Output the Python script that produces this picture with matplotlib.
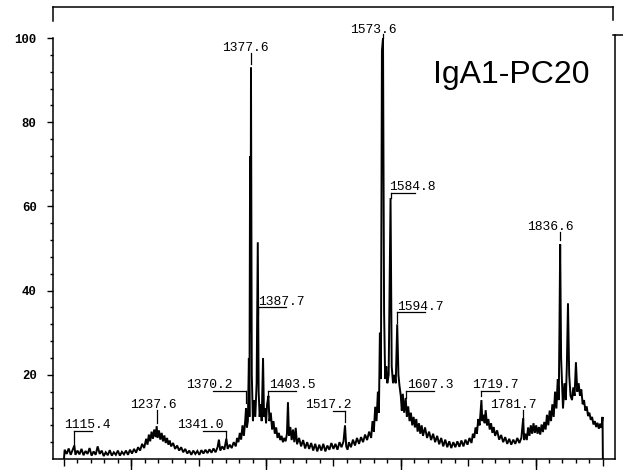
import matplotlib.pyplot as plt
import matplotlib.transforms as mtransforms

# -------------------------------------------------------
# Spectrum (m/z vs relative intensity)
# -------------------------------------------------------
mz = [
    1100, 1101, 1104, 1107, 1110, 1113, 1115.4, 1117, 1120, 1123, 1126, 1129,
    1132, 1135, 1138, 1141, 1144, 1147, 1150, 1153, 1156, 1159, 1162, 1165,
    1168, 1171, 1174, 1177, 1180, 1183, 1186, 1189, 1192, 1195, 1198, 1201,
    1204, 1207, 1210,
    1213, 1216, 1219, 1222, 1224, 1226, 1228, 1230, 1232, 1234, 1236, 1237.6,
    1239, 1241, 1243, 1245, 1247, 1249, 1251, 1253, 1255, 1257, 1259, 1262,
    1265, 1268, 1271, 1274, 1277, 1280, 1283, 1286,
    1289, 1292, 1295, 1298, 1301, 1304, 1307, 1310, 1313, 1316, 1319, 1322,
    1325, 1328, 1330, 1332, 1335, 1338, 1341.0, 1343, 1346, 1349, 1352, 1355,
    1357, 1359, 1361, 1363, 1365, 1367, 1369, 1370.2, 1371.5, 1373, 1374.5,
    1375.3, 1376.3, 1377.0, 1377.6, 1378.8, 1380.5, 1382, 1384, 1386, 1387.7,
    1389, 1390.5, 1392, 1393.5, 1395.5, 1397, 1398.5, 1400, 1401.5, 1403.5,
    1405, 1407, 1409, 1411, 1413, 1415, 1417, 1419, 1421, 1423, 1425, 1427,
    1429, 1431, 1432.5, 1434, 1436, 1438, 1440, 1442, 1444, 1446, 1449, 1452,
    1455, 1458, 1461, 1464, 1467, 1470, 1473, 1476, 1479, 1482, 1485, 1488,
    1491, 1494, 1497, 1500, 1503, 1506, 1509, 1512, 1515, 1517.2, 1519, 1521,
    1523, 1526, 1529, 1532, 1535, 1538, 1541, 1544, 1547, 1550, 1553, 1556,
    1558, 1560, 1562, 1564, 1566, 1567.5, 1569, 1570.5, 1572, 1573.6, 1575.2,
    1576.8, 1578.5, 1580, 1582, 1584.8, 1586.5, 1588.5, 1590.5, 1592.5, 1594.7,
    1596.5, 1598, 1600, 1601.5, 1603, 1605, 1607.3, 1609, 1611, 1613, 1615,
    1617, 1619, 1621, 1623, 1625, 1627, 1629, 1631, 1633, 1636, 1639, 1642,
    1645, 1648, 1651, 1654, 1657, 1660, 1663, 1666, 1669, 1672, 1675, 1678,
    1681, 1684, 1687, 1690, 1693, 1696, 1699, 1702, 1705, 1707, 1709, 1711,
    1713, 1715, 1717, 1719.7, 1721, 1723, 1724.5, 1726, 1728, 1730, 1732, 1734,
    1736, 1738, 1740, 1743, 1746, 1749, 1752, 1755, 1758, 1761, 1764, 1767,
    1770, 1773, 1776, 1779, 1781.7, 1783, 1785, 1787, 1789, 1791, 1793, 1795,
    1797, 1799, 1801, 1803, 1805, 1807, 1809, 1811, 1813, 1815, 1817, 1819,
    1821, 1823, 1825, 1827, 1829, 1831, 1833, 1834.5, 1835.5, 1836.6, 1838,
    1840.8, 1843, 1845, 1846.5, 1848.2, 1850, 1852, 1854.2, 1856, 1858, 1860,
    1862, 1864, 1866, 1868, 1870, 1872, 1874, 1876, 1878, 1880, 1882, 1884,
    1886, 1888, 1890, 1892, 1894, 1896, 1898, 1899.5, 1900,
]
rel_int = [
    0, 2.2, 1.2, 2.5, 1.0, 2.2, 3.2, 1.0, 2.0, 1.1, 2.4, 0.9,
    1.9, 1.2, 2.6, 0.8, 1.8, 1.0, 3.0, 1.2, 2.0, 0.7, 1.6, 0.9,
    2.1, 0.8, 1.6, 1.0, 2.0, 0.8, 1.7, 1.1, 2.0, 1.0, 2.2, 1.3,
    2.4, 1.5, 2.8,
    2.0, 3.6, 2.6, 4.8, 3.4, 5.8, 4.2, 6.5, 4.8, 7.0, 5.2, 7.8,
    5.0, 6.8, 4.6, 6.2, 4.2, 5.6, 3.8, 5.0, 3.4, 4.4, 3.0, 3.8,
    2.4, 3.2, 2.0, 2.8, 1.6, 2.4, 1.3, 2.0,
    1.0, 2.0, 1.2, 1.9, 1.0, 2.1, 1.3, 2.2, 1.4, 2.3, 1.5, 2.5,
    1.6, 2.8, 4.6, 2.0, 3.0, 2.2, 4.8, 2.4, 3.4, 2.6, 4.0, 3.0,
    5.0, 4.0, 6.2, 4.6, 8.0, 5.5, 9.0, 12.0, 7.5, 9.0, 24,
    10, 72, 30, 93, 20, 9, 14, 10, 18, 51.5,
    16, 10, 13, 9, 24, 10, 12, 8.5, 13, 15,
    9, 11, 7, 9, 6, 7.5, 5, 6.2, 4.5, 5.5, 4.0, 5.0,
    4.2, 6.0, 13.5, 5.5, 7.6, 4.5, 7.0, 4.0, 7.4, 3.5, 5.0, 3.0,
    4.5, 2.5, 4.0, 2.4, 3.8, 2.0, 3.6, 1.8, 3.4, 2.0, 3.6, 1.8,
    3.2, 2.2, 3.8, 2.4, 3.6, 2.2, 4.0, 2.8, 4.2, 8.0, 3.0, 2.2,
    4.0, 2.8, 4.6, 3.2, 5.0, 3.6, 5.2, 4.0, 5.8, 4.5, 6.5, 5.0,
    9.0, 6.5, 12.4, 9.0, 16, 11, 30, 19, 97, 100, 35,
    19, 22, 18, 20, 62, 22, 18, 20, 18, 32,
    20, 17.5, 15, 11.5, 15.5, 11, 14.5, 10, 12.5, 9, 11,
    8, 10, 7.5, 9.5, 6.5, 8.5, 6, 8, 5.5, 7.5, 5, 6.5,
    4.5, 6, 4, 5.5, 3.5, 5, 3, 4.6, 2.8, 4.2, 2.6, 4.0,
    2.8, 4.2, 2.9, 4.4, 3.0, 4.6, 3.4, 5.0, 3.8, 6.0, 5.0, 7.5,
    6.0, 9.5, 8, 14, 9, 10.5, 8.5, 11.6, 8, 9.5, 7, 8.5,
    6.2, 7.6, 5.5, 6.8, 4.6, 5.7, 4.0, 5.2, 3.6, 4.8, 3.4, 4.6,
    3.6, 5.0, 3.8, 5.0, 9.7, 4.5, 6.0, 4.5, 7.5, 5.5, 8.0, 6.0,
    8.5, 6.2, 8.0, 6.0, 7.6, 5.8, 8.2, 6.4, 8.8, 7.0, 10.5, 8.0,
    11.5, 9.0, 13, 10, 16, 12, 19, 14, 30, 51, 24,
    12, 18, 14, 22, 37, 20, 15, 14, 17, 15, 23,
    16, 18, 15, 16.5, 13, 14, 11.5, 12.5, 10.2, 11, 9.3, 10,
    8.2, 9, 7.6, 8.6, 7.2, 8.4, 7.4, 10, 0,
]

# labelled peaks
peak_labels = ["1115.4", "1237.6", "1341.0", "1370.2", "1377.6", "1387.7",
               "1403.5", "1517.2", "1573.6", "1584.8", "1594.7", "1607.3",
               "1719.7", "1781.7", "1836.6"]
peak_mz = [1115.4, 1237.6, 1341.0, 1370.2, 1377.6, 1387.7, 1403.5, 1517.2,
           1573.6, 1584.8, 1594.7, 1607.3, 1719.7, 1781.7, 1836.6]

# label layout: text left, text y, bracket y, bracket other end, tick bottom
label_layout = [
    (1100.0, 8.1, 6.65, 1141.6, 3.3),
    (1198.0, 12.8, 11.6, None, 8.5),
    (1267.8, 8.1, 6.65, 1306.4, 4.5),
    (1281.1, 17.6, 16.15, 1321.2, 13.3),
    (1334.6, 97.6, 96.4, None, 93.8),
    (1388.5, 37.3, 36.1, 1429.6, 34.5),
    (1404.3, 17.6, 16.15, 1444.4, 14.7),
    (1457.8, 12.8, 11.4, 1499.4, 8.8),
    (1524.6, 101.9, 100.9, None, 100.0),
    (1582.5, 64.6, 63.2, 1621.1, 62.0),
    (1594.4, 36.1, 34.9, 1636.0, 32.3),
    (1609.2, 17.6, 16.15, 1649.3, 14.5),
    (1705.7, 17.6, 16.15, 1745.8, 15.0),
    (1732.4, 12.8, 11.6, None, 9.3),
    (1787.4, 55.1, 53.9, None, 52.0),
]

x_min, x_max = 1083.7, 1918.0
y_min, y_max = 0, 107.4

fig = plt.figure(figsize=(6.23, 4.70), dpi=100)
ax = fig.add_axes([53 / 623, 11 / 470, 562 / 623, 452 / 470])

ax.plot(mz, rel_int, color="black", linewidth=1.4, solid_joinstyle="miter")

mono = "Liberation Mono"
for text, pmz, (tx, ty, ly, lend, tb) in zip(peak_labels, peak_mz, label_layout):
    ax.text(tx, ty, text, family=mono, fontsize=9.4, ha="left", va="center",
            color="black")
    if lend is not None:
        ax.plot([lend, pmz], [ly, ly], color="black", linewidth=0.9)
    ax.plot([pmz, pmz], [ly, tb], color="black", linewidth=0.9)

ax.text(1648, 89.3, "IgA1-PC20", family="Liberation Sans", fontsize=23,
        ha="left", va="baseline")

ax.set_xlim(x_min, x_max)
ax.set_ylim(y_min, y_max)

# y axis
ax.set_yticks([20, 40, 60, 80, 100])
ax.set_yticks(range(4, 100, 4), minor=True)
ax.set_yticklabels(["20", "40", "60", "80", "100"], family=mono,
                   fontweight="bold", fontsize=8.8)
ax.tick_params(axis="y", which="major", direction="out", length=4.3,
               width=1.0, pad=7.5)
ax.tick_params(axis="y", which="minor", direction="out", length=2.2, width=1.0)

# x axis: no labels, three tick lengths
ax.set_xticks(range(1100, 1901, 100))
ax.set_xticks(range(1100, 1901, 20), minor=True)
ax.set_xticklabels([])
ax.tick_params(axis="x", which="major", direction="out", length=5.0, width=1.0)
ax.tick_params(axis="x", which="minor", direction="out", length=3.0, width=1.0)
trans = mtransforms.blended_transform_factory(ax.transData, ax.transAxes)
ax.vlines([1200, 1400, 1600, 1800], -0.024, 0, transform=trans,
          color="black", linewidth=1.0, clip_on=False)

for side in ["left", "bottom", "right", "top"]:
    ax.spines[side].set_linewidth(1.1)
ax.spines["left"].set_bounds(0, 100)
ax.spines["right"].set_bounds(0, 100.7)
ax.spines["top"].set_bounds(x_min, 1915)

# bits of the scanned frame
ax.plot([x_min, x_min], [104.0, y_max], color="black", linewidth=1.1,
        clip_on=False)
ax.plot([1915, 1915], [104.3, y_max], color="black", linewidth=1.1,
        clip_on=False)
ax.plot([1915, 1930], [100.7, 100.7], color="black", linewidth=1.1,
        clip_on=False)

plt.savefig("out.png", dpi=100)
